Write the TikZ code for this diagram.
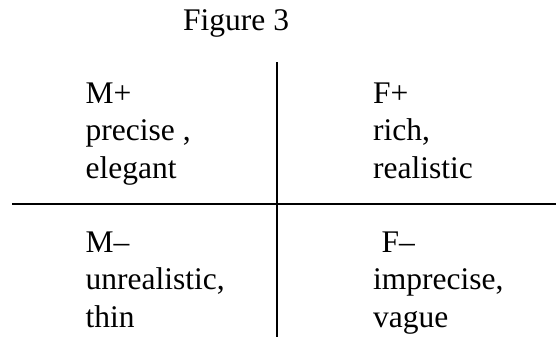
\documentclass[tikz,border=0pt]{standalone}
\usepackage{fontspec}
\setmainfont{Liberation Serif}
\newfontfamily\timesfont{Liberation Serif}
\begin{document}
\begin{tikzpicture}[x=1pt,y=-1pt,
  cell/.style={anchor=base west,inner sep=0pt,align=left,font=\timesfont\fontsize{31.5}{37.5}\selectfont},
  rule/.style={line width=2pt}]
\useasboundingbox (0,0) rectangle (556,337);
\node[cell] (title) at (183,31) {Figure 3};
\node[cell] (mp) at (85.5,178) {M+\\precise ,\\elegant};
\node[cell] (fp) at (373,178) {F+\\rich,\\realistic};
\node[cell] (mm) at (85.5,327) {M–\\unrealistic,\\thin};
\node[cell] (fm) at (373,327) {\hspace*{8.5pt}F–\\imprecise,\\vague};
\coordinate (vt) at (277,62);
\coordinate (vb) at (277,337);
\coordinate (hl) at (12,204);
\coordinate (hr) at (556,204);
\draw[rule] (vt) -- (vb);
\draw[rule] (hl) -- (hr);
\end{tikzpicture}
\end{document}
